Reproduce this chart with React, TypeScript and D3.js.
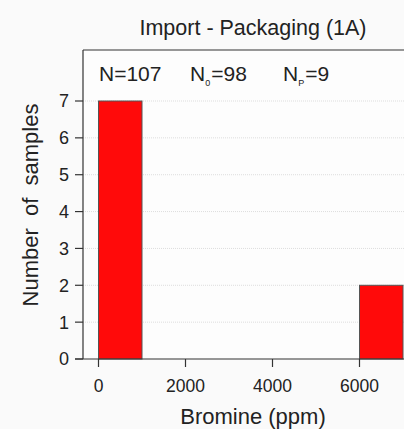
import React from "react";
import * as d3 from "d3";

const binStarts = [0, 1000, 2000, 3000, 4000, 5000, 6000];
const binCounts = [7, 0, 0, 0, 0, 0, 2];
const binWidth = 1000;
const xTicks = [0, 2000, 4000, 6000];
const yTicks = [0, 1, 2, 3, 4, 5, 6, 7];
const title = "Import - Packaging (1A)";
const xLabel = "Bromine (ppm)";
const yLabel = "Number  of  samples";

const W = 404;
const H = 429;
const left = 83;
const top = 50;
const bottom = 359;

export default function App() {
  const x = d3.scaleLinear().domain([0, 2000]).range([98.5, 185.5]);
  const y = d3.scaleLinear().domain([0, 7]).range([bottom, 101]);
  const font = "'Liberation Sans', Arial, sans-serif";
  const axisColor = "#333";
  const bins = binStarts.map((s, i) => ({ s, c: binCounts[i] })).filter((b) => b.c > 0);
  return (
    <div style={{ position: "fixed", left: 0, top: 0, width: W, height: H, background: "#fafafa" }}>
      <svg width={W} height={H} style={{ display: "block" }} fontFamily={font}>
        <rect x={left} y={top} width={W - left} height={bottom - top} fill="#fdfdfd" />
        {yTicks.filter((t) => t > 0).map((t) => (
          <line key={"g" + t} x1={left} x2={W} y1={y(t)} y2={y(t)} stroke="#ddd" strokeWidth={1} strokeDasharray="1,1" />
        ))}
        {bins.map((b) => (
          <rect
            key={b.s}
            x={x(b.s)}
            y={y(b.c)}
            width={x(b.s + binWidth) - x(b.s)}
            height={y(0) - y(b.c)}
            fill="#ff0a0a"
            stroke="#555"
            strokeWidth={1}
          />
        ))}
        <line x1={left} x2={left} y1={top} y2={bottom} stroke={axisColor} strokeWidth={1.2} />
        <line x1={left} x2={W} y1={top} y2={top} stroke={axisColor} strokeWidth={1.2} />
        <line x1={75} x2={W} y1={bottom} y2={bottom} stroke={axisColor} strokeWidth={1.2} />
        {yTicks.map((t) => (
          <g key={"y" + t}>
            <line x1={75} x2={left} y1={y(t)} y2={y(t)} stroke={axisColor} strokeWidth={1.2} />
            <text x={69} y={y(t)} dy="0.36em" textAnchor="end" fontSize={18} fill="#222">{t}</text>
          </g>
        ))}
        {xTicks.map((t) => (
          <g key={"x" + t}>
            <line x1={x(t)} x2={x(t)} y1={bottom} y2={bottom + 8} stroke={axisColor} strokeWidth={1.2} />
            <text x={x(t)} y={392} textAnchor="middle" fontSize={17.5} fill="#222">{t}</text>
          </g>
        ))}
        <text x={253} y={35} textAnchor="middle" fontSize={21.5} fill="#222">{title}</text>
        <text x={253} y={424} textAnchor="middle" fontSize={22} fill="#222">{xLabel}</text>
        <text transform={`translate(38,205) rotate(-90)`} textAnchor="middle" fontSize={22} fill="#222" style={{ whiteSpace: "pre" }}>{yLabel}</text>
        <text x={99} y={81} fontSize={21} fill="#222">N=107</text>
        <text x={190} y={81} fontSize={21} fill="#222">
          N<tspan fontSize={9} dy={5}>0</tspan><tspan dy={-5} dx={1}>=98</tspan>
        </text>
        <text x={283} y={81} fontSize={21} fill="#222">
          N<tspan fontSize={9} dy={5}>P</tspan><tspan dy={-5} dx={1}>=9</tspan>
        </text>
      </svg>
    </div>
  );
}
